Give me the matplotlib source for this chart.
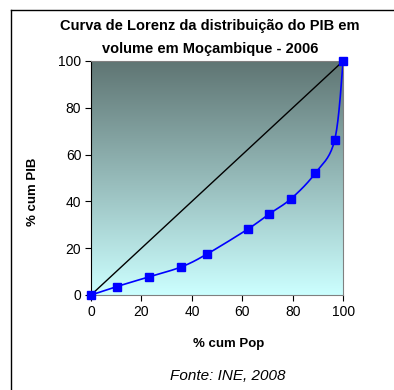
import numpy as np
import matplotlib.pyplot as plt
from matplotlib.colors import LinearSegmentedColormap
from matplotlib.lines import Line2D

plt.rcParams['font.family'] = ['Liberation Sans', 'DejaVu Sans']

# Lorenz curve data
pop_cum = [0, 10.2, 23.1, 35.8, 46.0, 62.4, 70.6, 79.4, 88.9, 96.6, 100]
pib_cum = [0, 3.6, 7.8, 12.0, 17.5, 28.3, 34.6, 41.2, 52.0, 66.1, 100]
equality = [0, 100]


def smooth(xs, ys, n=20):
    # Catmull-Rom style smoothing like Excel's smoothed line
    pts = np.column_stack([xs, ys]).astype(float)
    p = np.vstack([pts[0], pts, pts[-1]])
    out = []
    t = np.linspace(0, 1, n)[:, None]
    for i in range(1, len(p) - 2):
        p0, p1, p2, p3 = p[i - 1], p[i], p[i + 1], p[i + 2]
        seg = 0.5 * ((2 * p1) + (-p0 + p2) * t + (2 * p0 - 5 * p1 + 4 * p2 - p3) * t ** 2
                     + (-p0 + 3 * p1 - 3 * p2 + p3) * t ** 3)
        out.append(seg)
    out = np.vstack(out)
    return out[:, 0], out[:, 1]


fig = plt.figure(figsize=(3.94, 3.90), dpi=100)
ax = fig.add_axes([0.231, 0.2436, 0.640, 0.600])

# gradient background
cmap = LinearSegmentedColormap.from_list('bg', ['#ccffff', '#5f7573'])
grad = np.linspace(0, 1, 256).reshape(-1, 1)
ax.imshow(grad, extent=[0, 100, 0, 100], origin='lower', aspect='auto', cmap=cmap, zorder=0)

ax.plot(equality, equality, color='black', lw=1.0, zorder=2)
sx, sy = smooth(pop_cum, pib_cum)
ax.plot(sx, sy, color='#0000ff', lw=1.2, zorder=3)
ax.plot(pop_cum, pib_cum, ls='none', marker='s', ms=6, color='#0000ff', zorder=4, clip_on=False)

ax.set_xlim(0, 100)
ax.set_ylim(0, 100)
ax.set_xticks(range(0, 101, 20))
ax.set_yticks(range(0, 101, 20))
ax.tick_params(direction='out', length=4, labelsize=10, colors='black', pad=3)
ax.spines['left'].set_color('black')
for s in ['top', 'right', 'bottom']:
    ax.spines[s].set_color('#808080')
ax.set_xlabel('% cum Pop', fontsize=9.5, fontweight='bold')
ax.set_ylabel('% cum PIB', fontsize=9.5, fontweight='bold')
ax.xaxis.set_label_coords(0.544, -0.185)
ax.yaxis.set_label_coords(-0.206, 0.44)

fig.text(0.533, 0.904, 'Curva de Lorenz da distribuição do PIB em\nvolume em Moçambique - 2006',
         ha='center', va='center', fontsize=10.5, fontweight='bold', linespacing=1.75)
fig.text(0.578, 0.036, 'Fonte: INE, 2008', ha='center', va='center', fontsize=11, style='italic')

# outer frame (top and left edges)
fig.add_artist(Line2D([0.028, 1.0], [0.974, 0.974], color='black', lw=1.0, transform=fig.transFigure))
fig.add_artist(Line2D([0.028, 0.028], [0.0, 0.974], color='black', lw=1.0, transform=fig.transFigure))

fig.savefig('out.png', dpi=100)
